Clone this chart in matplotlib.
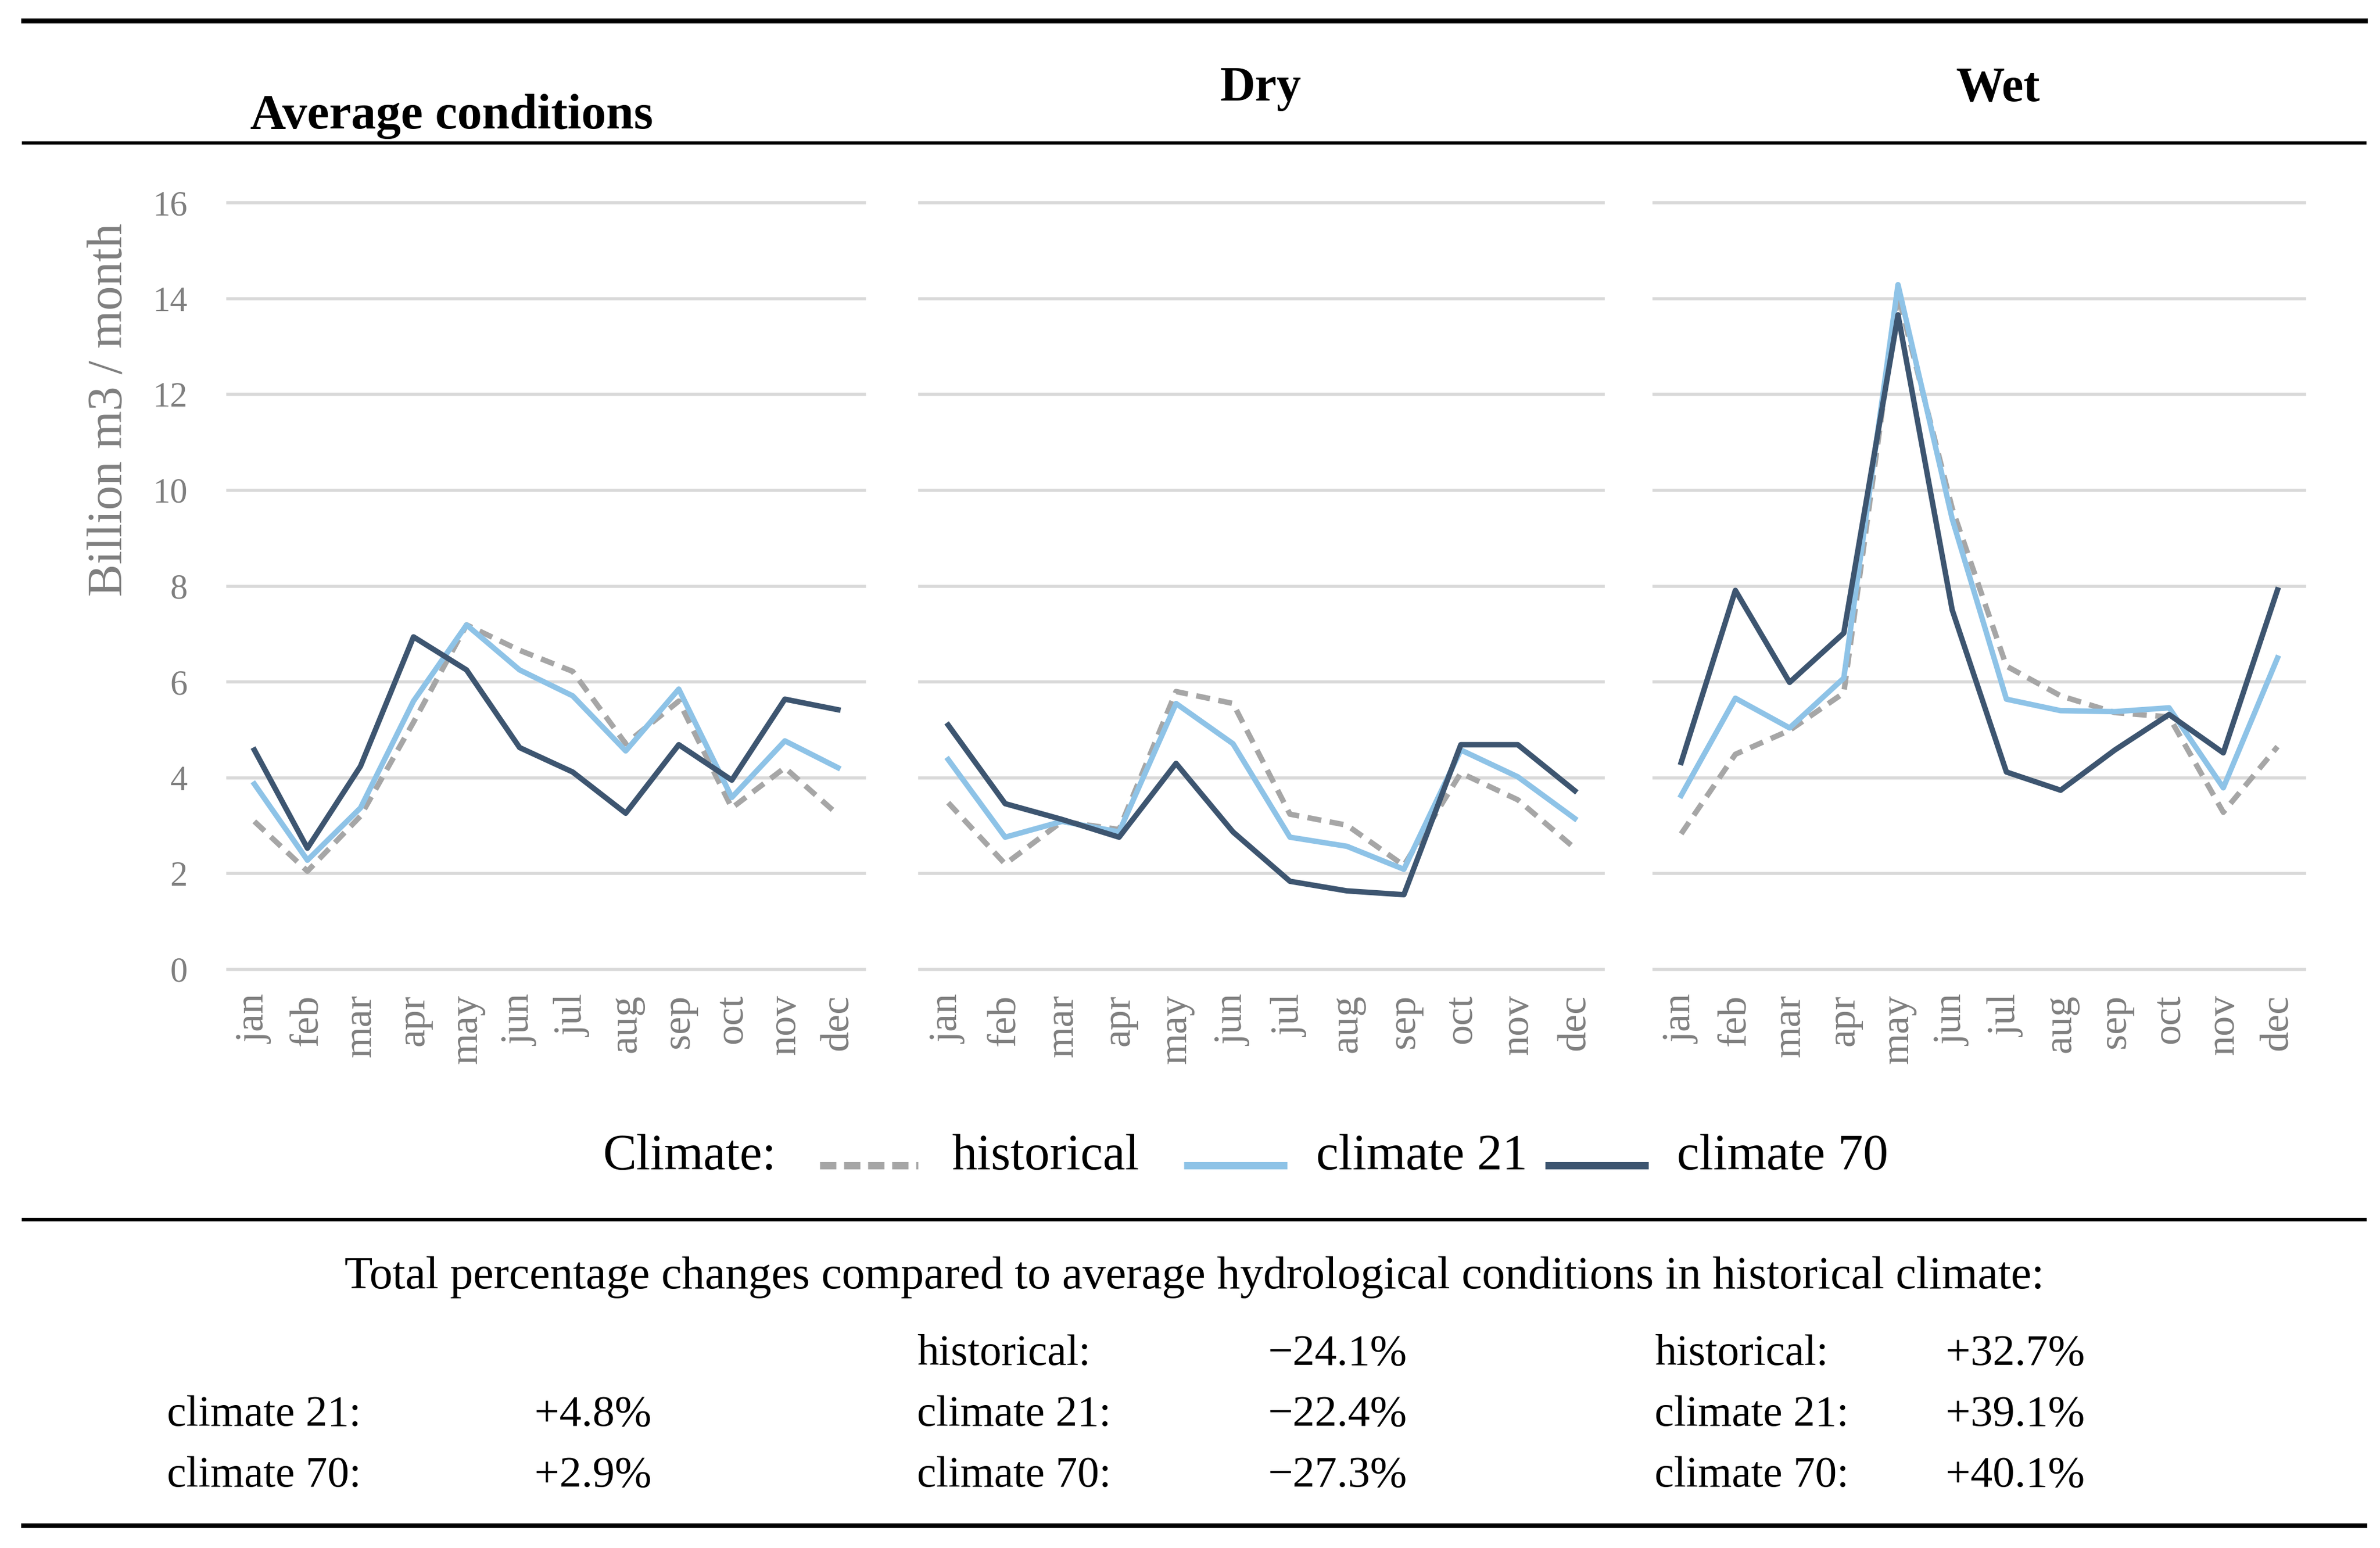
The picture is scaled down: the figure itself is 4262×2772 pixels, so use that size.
import matplotlib
matplotlib.use("Agg")
import matplotlib.pyplot as plt
from matplotlib.lines import Line2D

plt.rcParams['font.family'] = ['Liberation Serif', 'DejaVu Serif']
plt.rcParams['lines.scale_dashes'] = False

months = ["jan", "feb", "mar", "apr", "may", "jun", "jul", "aug", "sep", "oct", "nov", "dec"]
panel_titles = ["Average conditions", "Dry", "Wet"]
series_names = ["historical", "climate 21", "climate 70"]

avg_hist = [3.09, 2.05, 3.20, 5.16, 7.19, 6.66, 6.22, 4.71, 5.60, 3.37, 4.21, 3.23]
avg_c21 = [3.87, 2.28, 3.37, 5.60, 7.19, 6.25, 5.71, 4.56, 5.85, 3.59, 4.77, 4.21]
avg_c70 = [4.58, 2.53, 4.24, 6.94, 6.25, 4.63, 4.12, 3.26, 4.69, 3.95, 5.64, 5.42]

dry_hist = [3.48, 2.20, 3.09, 2.92, 5.80, 5.55, 3.24, 3.01, 2.17, 4.10, 3.54, 2.53]
dry_c21 = [4.38, 2.76, 3.09, 2.87, 5.55, 4.71, 2.76, 2.57, 2.09, 4.58, 4.02, 3.15]
dry_c70 = [5.10, 3.46, 3.13, 2.76, 4.30, 2.87, 1.84, 1.64, 1.56, 4.69, 4.69, 3.73]

wet_hist = [2.83, 4.49, 4.99, 5.77, 14.08, 9.62, 6.33, 5.71, 5.36, 5.27, 3.28, 4.65]
wet_c21 = [3.63, 5.66, 5.04, 6.08, 14.29, 9.40, 5.64, 5.40, 5.38, 5.46, 3.79, 6.50]
wet_c70 = [4.32, 7.91, 5.99, 7.02, 13.66, 7.50, 4.12, 3.74, 4.58, 5.32, 4.52, 7.92]

yticks = [0, 2, 4, 6, 8, 10, 12, 14, 16]

summary_title = "Total percentage changes compared to average hydrological conditions in historical climate:"
avg_labels = ["", "climate 21:", "climate 70:"]
avg_values = ["", "+4.8%", "+2.9%"]
dry_labels = ["historical:", "climate 21:", "climate 70:"]
dry_values = ["\u221224.1%", "\u221222.4%", "\u221227.3%"]
wet_labels = ["historical:", "climate 21:", "climate 70:"]
wet_values = ["+32.7%", "+39.1%", "+40.1%"]

COL_HIST = "#a6a6a6"
COL_C21 = "#8ec3e7"
COL_C70 = "#3d5570"
GRAY_TXT = "#7f7f7f"
GRID = "#d9d9d9"

W, H = 4262, 2772
fig = plt.figure(figsize=(W / 100, H / 100), dpi=100)

def fx(px):
    return px / W

def fy(py):
    return 1 - py / H

panels = [
    (408, 1140, avg_hist, avg_c21, avg_c70),
    (1647, 1224, dry_hist, dry_c21, dry_c70),
    (2962, 1165, wet_hist, wet_c21, wet_c70),
]
top_px, bot_px = 363, 1736
x = list(range(12))
axes = []
for i, (left, width, h, c21, c70) in enumerate(panels):
    ax = fig.add_axes([fx(left), fy(bot_px), width / W, (bot_px - top_px) / H])
    ax.set_xlim(-0.5, 11.5)
    ax.set_ylim(0, 16)
    ax.set_yticks(yticks)
    ax.yaxis.grid(True, color=GRID, linewidth=4.0)
    for gl in ax.get_ygridlines():
        gl.set_clip_on(False)
    ax.set_axisbelow(True)
    for s in ax.spines.values():
        s.set_visible(False)
    ax.plot(x, h, color=COL_HIST, linewidth=7.0, dashes=(18, 11), clip_on=False)
    ax.plot(x, c21, color=COL_C21, linewidth=7.0, clip_on=False)
    ax.plot(x, c70, color=COL_C70, linewidth=7.0, clip_on=False)
    ax.set_xticks(x)
    ax.set_xticklabels(months, rotation=90, color=GRAY_TXT, fontsize=52)
    ax.tick_params(axis='x', length=0, pad=32)
    if i == 0:
        ax.tick_params(axis='y', length=0, pad=52, labelsize=45, labelcolor=GRAY_TXT)
    else:
        ax.tick_params(axis='y', length=0, labelleft=False)
    axes.append(ax)

# y label
fig.text(fx(196), fy(734), "Billion m3 / month", rotation=90, color=GRAY_TXT,
         fontsize=63, ha='center', va='center')

# panel titles
fig.text(fx(448), fy(230), panel_titles[0], fontsize=64, fontweight='bold', ha='left', va='baseline')
fig.text(fx(2257), fy(180), panel_titles[1], fontsize=63, fontweight='bold', ha='center', va='baseline')
fig.text(fx(3578), fy(180), panel_titles[2], fontsize=63, fontweight='bold', ha='center', va='baseline')

# rules
def rule(py, lw):
    fig.add_artist(Line2D([fx(42), fx(4235)], [fy(py), fy(py)], color='black', linewidth=lw))

rule(37, 6.5)
rule(256, 4.0)
rule(2184, 4.5)
rule(2732, 6.0)

# legend
leg_base = 2094
leg_line_y = 2087
fig.text(fx(1079), fy(leg_base), "Climate:", fontsize=65, ha='left', va='baseline')
handles = [
    (1468, 1644, COL_HIST, True, 1704, series_names[0]),
    (2120, 2305, COL_C21, False, 2357, series_names[1]),
    (2767, 2952, COL_C70, False, 3003, series_names[2]),
]
for x0, x1, col, dashed, tx, lab in handles:
    ln = Line2D([fx(x0), fx(x1)], [fy(leg_line_y), fy(leg_line_y)], color=col, linewidth=9.4,
                solid_capstyle='butt')
    if dashed:
        ln.set_dashes((21, 10))
    fig.add_artist(ln)
    fig.text(fx(tx), fy(leg_base), lab, fontsize=65, ha='left', va='baseline')

# summary
fig.text(fx(2139), fy(2307), summary_title, fontsize=59.5, ha='center', va='baseline')
row_base = [2444, 2553, 2662]
cols = [(299, 957, avg_labels, avg_values),
        (1642, 2270, dry_labels, dry_values),
        (2963, 3484, wet_labels, wet_values)]
for lx, vx, labs, vals in cols:
    for rb, lab, val in zip(row_base, labs, vals):
        if lab:
            fig.text(fx(lx), fy(rb), lab, fontsize=56, ha='left', va='baseline')
        if val:
            fig.text(fx(vx), fy(rb), val, fontsize=57, ha='left', va='baseline')

fig.savefig("out.png", dpi=100)
